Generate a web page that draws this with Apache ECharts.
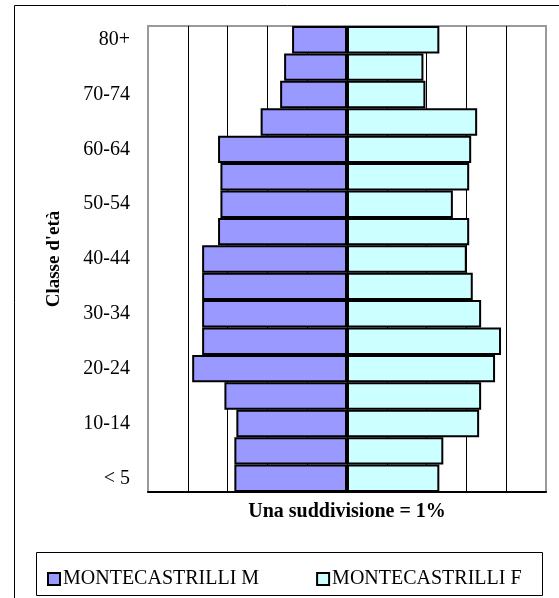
<!DOCTYPE html>
<html><head><meta charset="utf-8">
<script src="https://cdn.jsdelivr.net/npm/echarts@6/dist/echarts.min.js"></script>
<style>html,body{margin:0;padding:0;background:#fff}#c{width:559px;height:598px}</style>
</head><body><div id="c"></div>
<script>
const categories = ["< 5","5-9","10-14","15-19","20-24","25-29","30-34","35-39","40-44","45-49","50-54","55-59","60-64","65-69","70-74","75-79","80+"];
const maleValues = [2.83,2.83,2.78,3.08,3.89,3.64,3.64,3.64,3.64,3.24,3.18,3.18,3.24,2.17,1.68,1.58,1.38];
const femaleValues = [2.32,2.42,3.32,3.37,3.72,3.87,3.37,3.16,3.01,3.07,2.66,3.07,3.12,3.27,1.97,1.92,2.32];
const xTicks = {min:-5, max:5, interval:1};

const serif = '"Liberation Serif", "Times New Roman", serif';
const chart = echarts.init(document.getElementById('c'), null, {renderer:'canvas'});
chart.setOption({
  animation:false,
  backgroundColor:'#fff',
  grid:{left:148, right:13, top:26, bottom:106, show:true, borderColor:'#999', borderWidth:2, containLabel:false},
  xAxis:{type:'value', min:xTicks.min, max:xTicks.max, interval:xTicks.interval,
    axisLabel:{show:false}, axisTick:{show:false},
    axisLine:{show:true, onZero:false, lineStyle:{color:'#000', width:2}},
    splitLine:{show:true, showMinLine:false, showMaxLine:false, lineStyle:{color:'#000', width:1}},
    name:'Una suddivisione = 1%', nameLocation:'middle', nameGap:10,
    nameTextStyle:{fontFamily:serif, fontWeight:'bold', fontSize:20, color:'#000', verticalAlign:'top'}},
  yAxis:{type:'category', data:categories,
    axisTick:{show:false}, axisLine:{show:false},
    axisLabel:{interval:1, fontFamily:serif, fontSize:20, color:'#000', margin:18},
    name:"Classe d'età", nameLocation:'middle', nameGap:84, nameRotate:90,
    nameTextStyle:{fontFamily:serif, fontWeight:'bold', fontSize:19, color:'#000'}},
  legend:{left:42, top:564, itemWidth:12, itemHeight:12, itemGap:57, icon:'rect',
    textStyle:{fontFamily:serif, fontSize:20, color:'#000', padding:[0,0,0,-2]},
    data:['MONTECASTRILLI M','MONTECASTRILLI F']},
  graphic:[
    {type:'rect', shape:{x:14.5, y:5.5, width:600, height:700}, style:{fill:null, stroke:'#000', lineWidth:1}, silent:true, z:-1},
    {type:'rect', shape:{x:36.5, y:552.5, width:506, height:43}, style:{fill:null, stroke:'#000', lineWidth:1}, silent:true}
  ],
  series:[
    {name:'MONTECASTRILLI M', type:'bar', stack:'p', barWidth:'100%',
      data:maleValues.map(v=>-v),
      itemStyle:{color:'#9999FF', borderColor:'#000', borderWidth:2}},
    {name:'MONTECASTRILLI F', type:'bar', stack:'p', barWidth:'100%',
      data:femaleValues,
      itemStyle:{color:'#CCFFFF', borderColor:'#000', borderWidth:2}}
  ]
});
</script></body></html>
